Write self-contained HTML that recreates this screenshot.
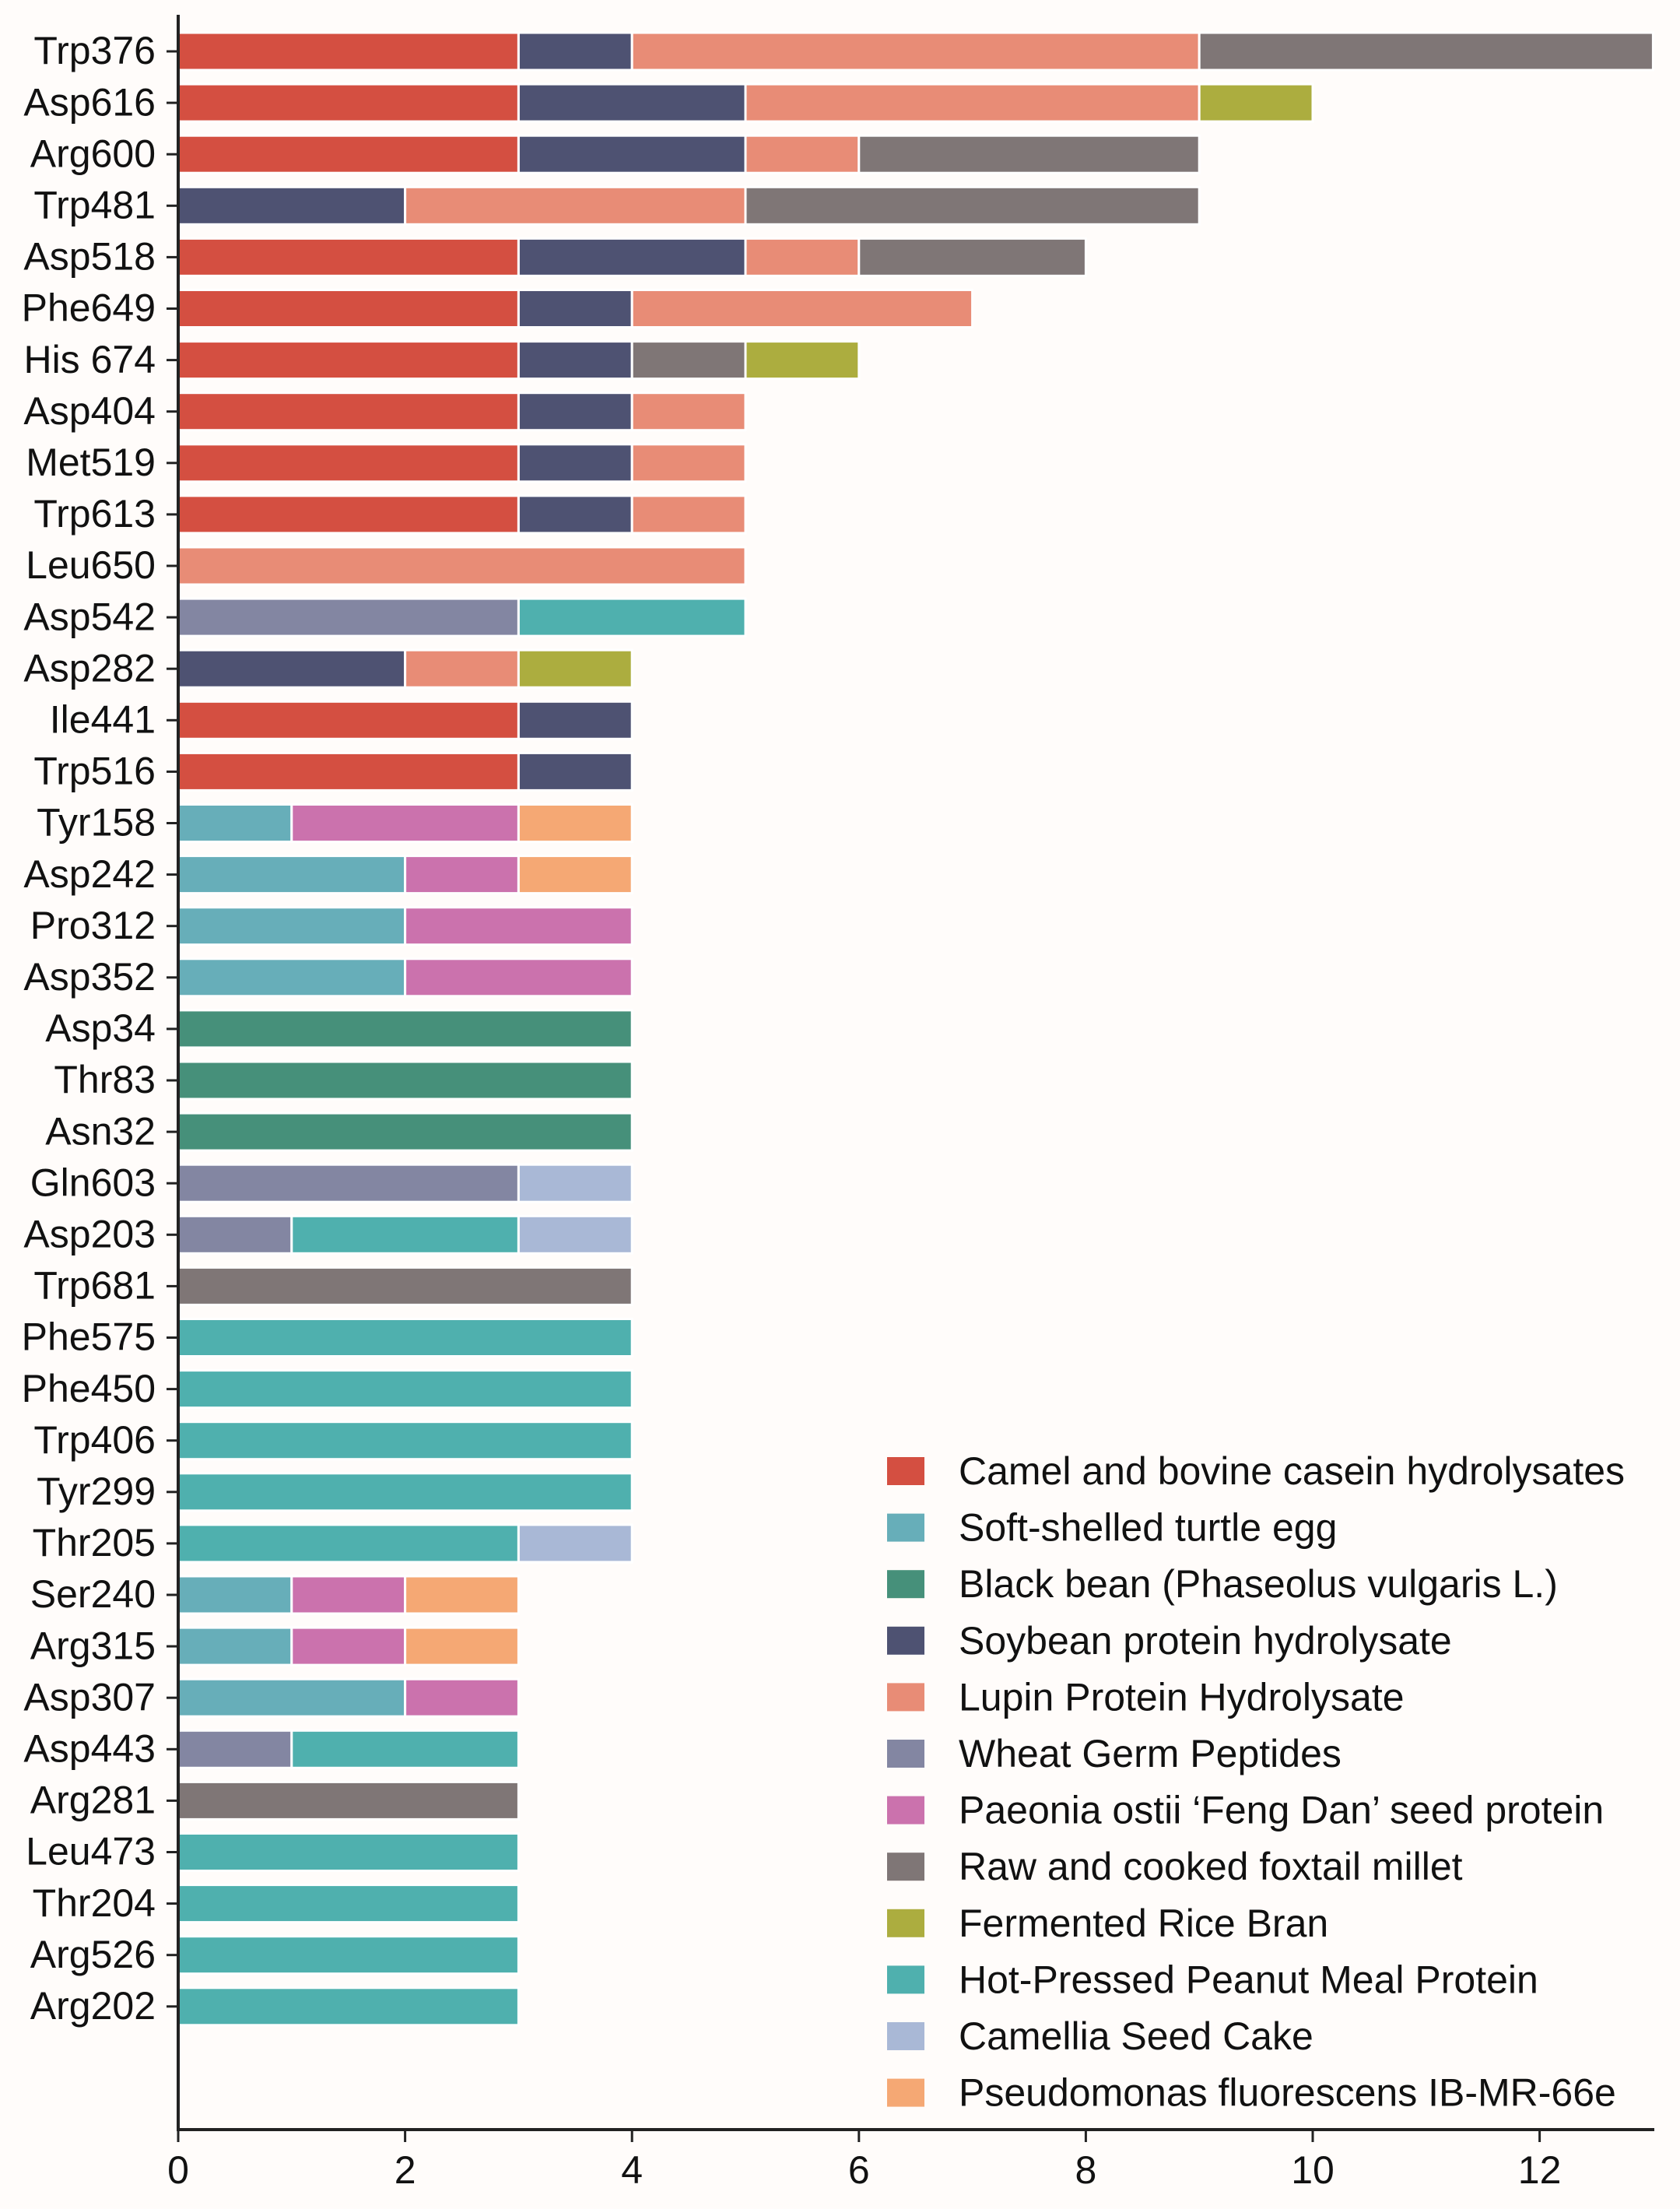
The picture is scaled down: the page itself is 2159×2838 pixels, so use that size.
<!DOCTYPE html>
<html><head><meta charset="utf-8"><style>
html,body{margin:0;padding:0;background:#fffcfa;}
svg{display:block;}
text{font-family:"Liberation Sans",Arial,sans-serif;fill:#111;}
</style></head><body>
<svg width="2159" height="2838" viewBox="0 0 2159 2838" xmlns="http://www.w3.org/2000/svg">
<rect width="2159" height="2838" fill="#fffcfa"/>
<defs><style>
.l{font-size:50px;text-anchor:end;dominant-baseline:middle;}
.t{stroke:#222;stroke-width:3;}
rect.b{stroke:#fff;stroke-width:3;}
.R{fill:#d44f41}.N{fill:#4e5272}.S{fill:#e88c76}.G{fill:#7f7676}.O{fill:#acad3f}.T{fill:#4fb0ae}.U{fill:#67aeb9}.E{fill:#46907a}.W{fill:#8386a2}.P{fill:#cb72ad}.C{fill:#a9b8d6}.F{fill:#f5a874}
</style></defs>

<g transform="translate(0,42)"><text class="l" x="200" y="27">Trp376</text><line class="t" x1="214" x2="229" y1="24" y2="24"/>
<rect class="b R" x="229" y="0" width="437.4" height="48"/><rect class="b N" x="666.4" y="0" width="145.8" height="48"/><rect class="b S" x="812.2" y="0" width="729" height="48"/><rect class="b G" x="1541.2" y="0" width="583.2" height="48"/></g>
<g transform="translate(0,108.1)"><text class="l" x="200" y="27">Asp616</text><line class="t" x1="214" x2="229" y1="24" y2="24"/>
<rect class="b R" x="229" y="0" width="437.4" height="48"/><rect class="b N" x="666.4" y="0" width="291.6" height="48"/><rect class="b S" x="958" y="0" width="583.2" height="48"/><rect class="b O" x="1541.2" y="0" width="145.8" height="48"/></g>
<g transform="translate(0,174.2)"><text class="l" x="200" y="27">Arg600</text><line class="t" x1="214" x2="229" y1="24" y2="24"/>
<rect class="b R" x="229" y="0" width="437.4" height="48"/><rect class="b N" x="666.4" y="0" width="291.6" height="48"/><rect class="b S" x="958" y="0" width="145.8" height="48"/><rect class="b G" x="1103.8" y="0" width="437.4" height="48"/></g>
<g transform="translate(0,240.3)"><text class="l" x="200" y="27">Trp481</text><line class="t" x1="214" x2="229" y1="24" y2="24"/>
<rect class="b N" x="229" y="0" width="291.6" height="48"/><rect class="b S" x="520.6" y="0" width="437.4" height="48"/><rect class="b G" x="958" y="0" width="583.2" height="48"/></g>
<g transform="translate(0,306.4)"><text class="l" x="200" y="27">Asp518</text><line class="t" x1="214" x2="229" y1="24" y2="24"/>
<rect class="b R" x="229" y="0" width="437.4" height="48"/><rect class="b N" x="666.4" y="0" width="291.6" height="48"/><rect class="b S" x="958" y="0" width="145.8" height="48"/><rect class="b G" x="1103.8" y="0" width="291.6" height="48"/></g>
<g transform="translate(0,372.5)"><text class="l" x="200" y="27">Phe649</text><line class="t" x1="214" x2="229" y1="24" y2="24"/>
<rect class="b R" x="229" y="0" width="437.4" height="48"/><rect class="b N" x="666.4" y="0" width="145.8" height="48"/><rect class="b S" x="812.2" y="0" width="437.4" height="48"/></g>
<g transform="translate(0,438.6)"><text class="l" x="200" y="27">His 674</text><line class="t" x1="214" x2="229" y1="24" y2="24"/>
<rect class="b R" x="229" y="0" width="437.4" height="48"/><rect class="b N" x="666.4" y="0" width="145.8" height="48"/><rect class="b G" x="812.2" y="0" width="145.8" height="48"/><rect class="b O" x="958" y="0" width="145.8" height="48"/></g>
<g transform="translate(0,504.7)"><text class="l" x="200" y="27">Asp404</text><line class="t" x1="214" x2="229" y1="24" y2="24"/>
<rect class="b R" x="229" y="0" width="437.4" height="48"/><rect class="b N" x="666.4" y="0" width="145.8" height="48"/><rect class="b S" x="812.2" y="0" width="145.8" height="48"/></g>
<g transform="translate(0,570.8)"><text class="l" x="200" y="27">Met519</text><line class="t" x1="214" x2="229" y1="24" y2="24"/>
<rect class="b R" x="229" y="0" width="437.4" height="48"/><rect class="b N" x="666.4" y="0" width="145.8" height="48"/><rect class="b S" x="812.2" y="0" width="145.8" height="48"/></g>
<g transform="translate(0,636.9)"><text class="l" x="200" y="27">Trp613</text><line class="t" x1="214" x2="229" y1="24" y2="24"/>
<rect class="b R" x="229" y="0" width="437.4" height="48"/><rect class="b N" x="666.4" y="0" width="145.8" height="48"/><rect class="b S" x="812.2" y="0" width="145.8" height="48"/></g>
<g transform="translate(0,703)"><text class="l" x="200" y="27">Leu650</text><line class="t" x1="214" x2="229" y1="24" y2="24"/>
<rect class="b S" x="229" y="0" width="729" height="48"/></g>
<g transform="translate(0,769.1)"><text class="l" x="200" y="27">Asp542</text><line class="t" x1="214" x2="229" y1="24" y2="24"/>
<rect class="b W" x="229" y="0" width="437.4" height="48"/><rect class="b T" x="666.4" y="0" width="291.6" height="48"/></g>
<g transform="translate(0,835.2)"><text class="l" x="200" y="27">Asp282</text><line class="t" x1="214" x2="229" y1="24" y2="24"/>
<rect class="b N" x="229" y="0" width="291.6" height="48"/><rect class="b S" x="520.6" y="0" width="145.8" height="48"/><rect class="b O" x="666.4" y="0" width="145.8" height="48"/></g>
<g transform="translate(0,901.3)"><text class="l" x="200" y="27">Ile441</text><line class="t" x1="214" x2="229" y1="24" y2="24"/>
<rect class="b R" x="229" y="0" width="437.4" height="48"/><rect class="b N" x="666.4" y="0" width="145.8" height="48"/></g>
<g transform="translate(0,967.4)"><text class="l" x="200" y="27">Trp516</text><line class="t" x1="214" x2="229" y1="24" y2="24"/>
<rect class="b R" x="229" y="0" width="437.4" height="48"/><rect class="b N" x="666.4" y="0" width="145.8" height="48"/></g>
<g transform="translate(0,1033.5)"><text class="l" x="200" y="27">Tyr158</text><line class="t" x1="214" x2="229" y1="24" y2="24"/>
<rect class="b U" x="229" y="0" width="145.8" height="48"/><rect class="b P" x="374.8" y="0" width="291.6" height="48"/><rect class="b F" x="666.4" y="0" width="145.8" height="48"/></g>
<g transform="translate(0,1099.6)"><text class="l" x="200" y="27">Asp242</text><line class="t" x1="214" x2="229" y1="24" y2="24"/>
<rect class="b U" x="229" y="0" width="291.6" height="48"/><rect class="b P" x="520.6" y="0" width="145.8" height="48"/><rect class="b F" x="666.4" y="0" width="145.8" height="48"/></g>
<g transform="translate(0,1165.7)"><text class="l" x="200" y="27">Pro312</text><line class="t" x1="214" x2="229" y1="24" y2="24"/>
<rect class="b U" x="229" y="0" width="291.6" height="48"/><rect class="b P" x="520.6" y="0" width="291.6" height="48"/></g>
<g transform="translate(0,1231.8)"><text class="l" x="200" y="27">Asp352</text><line class="t" x1="214" x2="229" y1="24" y2="24"/>
<rect class="b U" x="229" y="0" width="291.6" height="48"/><rect class="b P" x="520.6" y="0" width="291.6" height="48"/></g>
<g transform="translate(0,1297.9)"><text class="l" x="200" y="27">Asp34</text><line class="t" x1="214" x2="229" y1="24" y2="24"/>
<rect class="b E" x="229" y="0" width="583.2" height="48"/></g>
<g transform="translate(0,1364)"><text class="l" x="200" y="27">Thr83</text><line class="t" x1="214" x2="229" y1="24" y2="24"/>
<rect class="b E" x="229" y="0" width="583.2" height="48"/></g>
<g transform="translate(0,1430.1)"><text class="l" x="200" y="27">Asn32</text><line class="t" x1="214" x2="229" y1="24" y2="24"/>
<rect class="b E" x="229" y="0" width="583.2" height="48"/></g>
<g transform="translate(0,1496.2)"><text class="l" x="200" y="27">Gln603</text><line class="t" x1="214" x2="229" y1="24" y2="24"/>
<rect class="b W" x="229" y="0" width="437.4" height="48"/><rect class="b C" x="666.4" y="0" width="145.8" height="48"/></g>
<g transform="translate(0,1562.3)"><text class="l" x="200" y="27">Asp203</text><line class="t" x1="214" x2="229" y1="24" y2="24"/>
<rect class="b W" x="229" y="0" width="145.8" height="48"/><rect class="b T" x="374.8" y="0" width="291.6" height="48"/><rect class="b C" x="666.4" y="0" width="145.8" height="48"/></g>
<g transform="translate(0,1628.4)"><text class="l" x="200" y="27">Trp681</text><line class="t" x1="214" x2="229" y1="24" y2="24"/>
<rect class="b G" x="229" y="0" width="583.2" height="48"/></g>
<g transform="translate(0,1694.5)"><text class="l" x="200" y="27">Phe575</text><line class="t" x1="214" x2="229" y1="24" y2="24"/>
<rect class="b T" x="229" y="0" width="583.2" height="48"/></g>
<g transform="translate(0,1760.6)"><text class="l" x="200" y="27">Phe450</text><line class="t" x1="214" x2="229" y1="24" y2="24"/>
<rect class="b T" x="229" y="0" width="583.2" height="48"/></g>
<g transform="translate(0,1826.7)"><text class="l" x="200" y="27">Trp406</text><line class="t" x1="214" x2="229" y1="24" y2="24"/>
<rect class="b T" x="229" y="0" width="583.2" height="48"/></g>
<g transform="translate(0,1892.8)"><text class="l" x="200" y="27">Tyr299</text><line class="t" x1="214" x2="229" y1="24" y2="24"/>
<rect class="b T" x="229" y="0" width="583.2" height="48"/></g>
<g transform="translate(0,1958.9)"><text class="l" x="200" y="27">Thr205</text><line class="t" x1="214" x2="229" y1="24" y2="24"/>
<rect class="b T" x="229" y="0" width="437.4" height="48"/><rect class="b C" x="666.4" y="0" width="145.8" height="48"/></g>
<g transform="translate(0,2025)"><text class="l" x="200" y="27">Ser240</text><line class="t" x1="214" x2="229" y1="24" y2="24"/>
<rect class="b U" x="229" y="0" width="145.8" height="48"/><rect class="b P" x="374.8" y="0" width="145.8" height="48"/><rect class="b F" x="520.6" y="0" width="145.8" height="48"/></g>
<g transform="translate(0,2091.1)"><text class="l" x="200" y="27">Arg315</text><line class="t" x1="214" x2="229" y1="24" y2="24"/>
<rect class="b U" x="229" y="0" width="145.8" height="48"/><rect class="b P" x="374.8" y="0" width="145.8" height="48"/><rect class="b F" x="520.6" y="0" width="145.8" height="48"/></g>
<g transform="translate(0,2157.2)"><text class="l" x="200" y="27">Asp307</text><line class="t" x1="214" x2="229" y1="24" y2="24"/>
<rect class="b U" x="229" y="0" width="291.6" height="48"/><rect class="b P" x="520.6" y="0" width="145.8" height="48"/></g>
<g transform="translate(0,2223.3)"><text class="l" x="200" y="27">Asp443</text><line class="t" x1="214" x2="229" y1="24" y2="24"/>
<rect class="b W" x="229" y="0" width="145.8" height="48"/><rect class="b T" x="374.8" y="0" width="291.6" height="48"/></g>
<g transform="translate(0,2289.4)"><text class="l" x="200" y="27">Arg281</text><line class="t" x1="214" x2="229" y1="24" y2="24"/>
<rect class="b G" x="229" y="0" width="437.4" height="48"/></g>
<g transform="translate(0,2355.5)"><text class="l" x="200" y="27">Leu473</text><line class="t" x1="214" x2="229" y1="24" y2="24"/>
<rect class="b T" x="229" y="0" width="437.4" height="48"/></g>
<g transform="translate(0,2421.6)"><text class="l" x="200" y="27">Thr204</text><line class="t" x1="214" x2="229" y1="24" y2="24"/>
<rect class="b T" x="229" y="0" width="437.4" height="48"/></g>
<g transform="translate(0,2487.7)"><text class="l" x="200" y="27">Arg526</text><line class="t" x1="214" x2="229" y1="24" y2="24"/>
<rect class="b T" x="229" y="0" width="437.4" height="48"/></g>
<g transform="translate(0,2553.8)"><text class="l" x="200" y="27">Arg202</text><line class="t" x1="214" x2="229" y1="24" y2="24"/>
<rect class="b T" x="229" y="0" width="437.4" height="48"/></g>

<line x1="229" y1="19" x2="229" y2="2738" stroke="#222" stroke-width="4"/>
<line x1="227" y1="2736" x2="2126" y2="2736" stroke="#222" stroke-width="4"/>
<g stroke="#222" stroke-width="3">
<line x1="229" x2="229" y1="2736" y2="2752"/><line x1="520.6" x2="520.6" y1="2736" y2="2752"/><line x1="812.2" x2="812.2" y1="2736" y2="2752"/><line x1="1103.8" x2="1103.8" y1="2736" y2="2752"/><line x1="1395.4" x2="1395.4" y1="2736" y2="2752"/><line x1="1687" x2="1687" y1="2736" y2="2752"/><line x1="1978.6" x2="1978.6" y1="2736" y2="2752"/>
</g>
<g font-size="50" text-anchor="middle">
<text x="229" y="2805">0</text><text x="520.6" y="2805">2</text><text x="812.2" y="2805">4</text><text x="1103.8" y="2805">6</text><text x="1395.4" y="2805">8</text><text x="1687" y="2805">10</text><text x="1978.6" y="2805">12</text>
</g>

<g font-size="50">
<rect x="1140" y="1872" width="48" height="36" class="R"/><text x="1232" y="1907">Camel and bovine casein hydrolysates</text>
<rect x="1140" y="1944.6" width="48" height="36" class="U"/><text x="1232" y="1979.6">Soft-shelled turtle egg</text>
<rect x="1140" y="2017.2" width="48" height="36" class="E"/><text x="1232" y="2052.2">Black bean (Phaseolus vulgaris L.)</text>
<rect x="1140" y="2089.8" width="48" height="36" class="N"/><text x="1232" y="2124.8">Soybean protein hydrolysate</text>
<rect x="1140" y="2162.4" width="48" height="36" class="S"/><text x="1232" y="2197.4">Lupin Protein Hydrolysate</text>
<rect x="1140" y="2235" width="48" height="36" class="W"/><text x="1232" y="2270">Wheat Germ Peptides</text>
<rect x="1140" y="2307.6" width="48" height="36" class="P"/><text x="1232" y="2342.6">Paeonia ostii ‘Feng Dan’ seed protein</text>
<rect x="1140" y="2380.2" width="48" height="36" class="G"/><text x="1232" y="2415.2">Raw and cooked foxtail millet</text>
<rect x="1140" y="2452.8" width="48" height="36" class="O"/><text x="1232" y="2487.8">Fermented Rice Bran</text>
<rect x="1140" y="2525.4" width="48" height="36" class="T"/><text x="1232" y="2560.4">Hot-Pressed Peanut Meal Protein</text>
<rect x="1140" y="2598" width="48" height="36" class="C"/><text x="1232" y="2633">Camellia Seed Cake</text>
<rect x="1140" y="2670.6" width="48" height="36" class="F"/><text x="1232" y="2705.6">Pseudomonas fluorescens IB-MR-66e</text>
</g>
</svg>
</body></html>
